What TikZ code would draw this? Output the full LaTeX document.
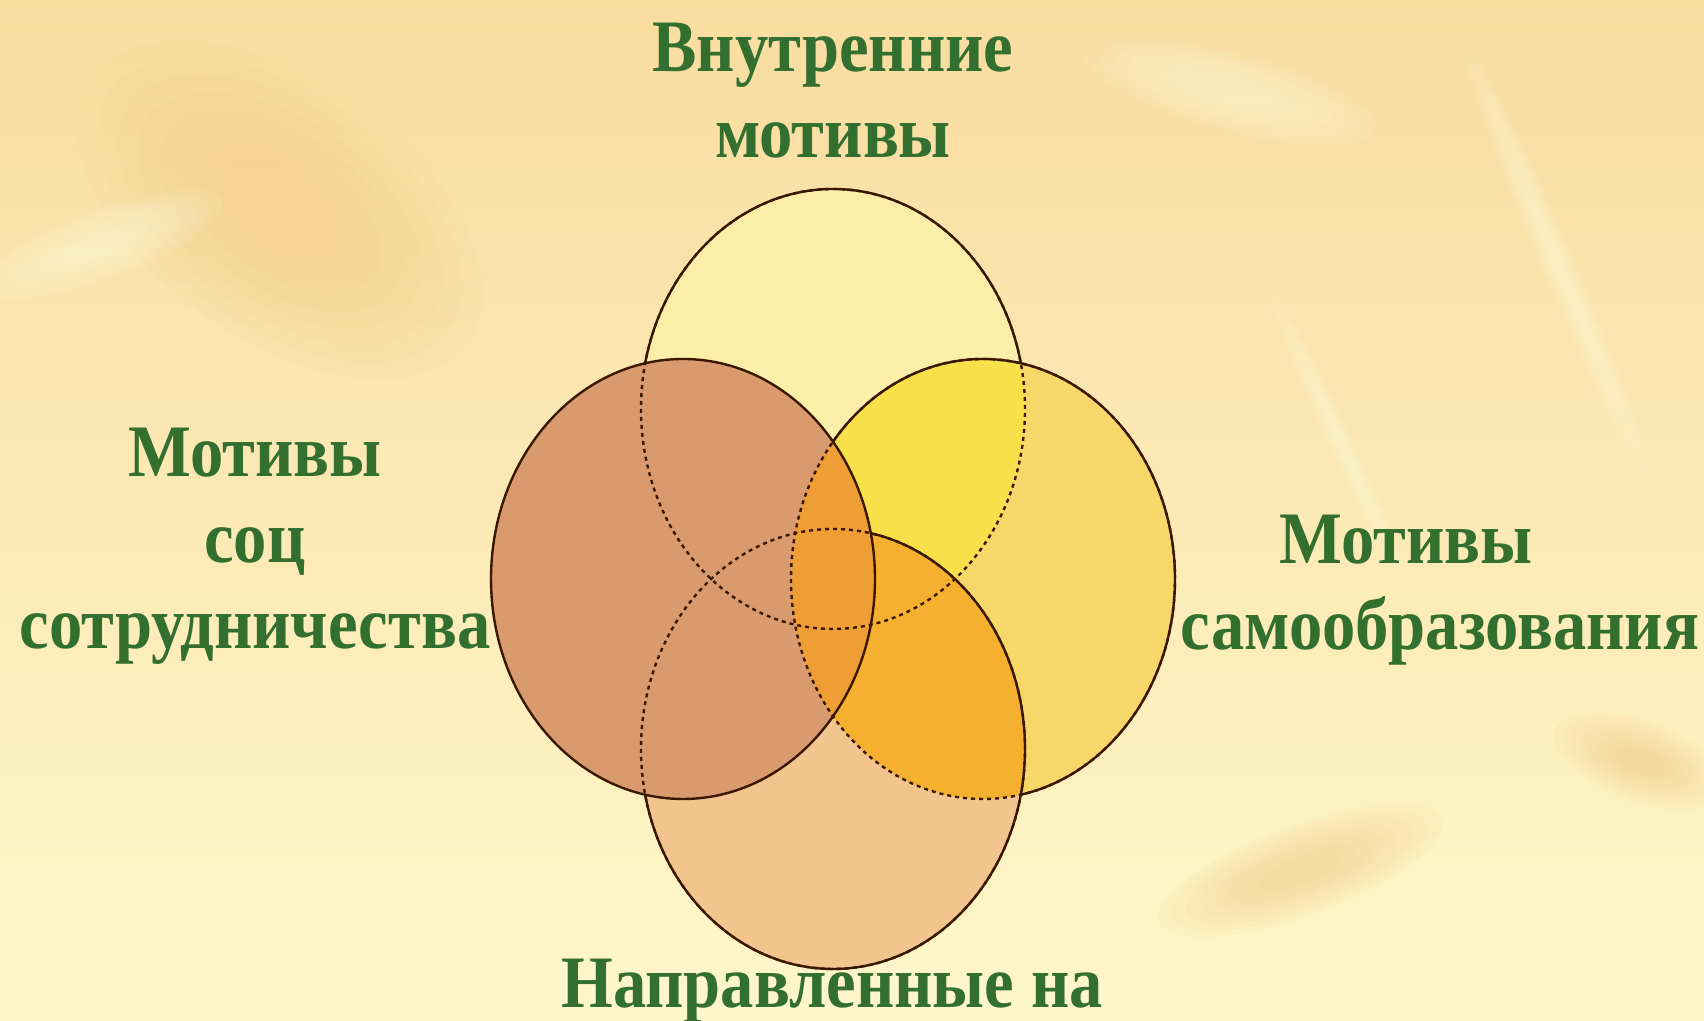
\documentclass[tikz,border=0pt]{standalone}
\usepackage{fontspec}
\newfontfamily\motivefont[FakeStretch=0.9]{Liberation Serif}
\definecolor{bgtop}{HTML}{F9DCA0}
\definecolor{bgbottom}{HTML}{FEF7CA}
\definecolor{leafpeach}{HTML}{F5CC88}
\definecolor{leaflight}{HTML}{FFFCD8}
\definecolor{rimbrown}{HTML}{3A1800}
\definecolor{motivegreen}{HTML}{336F2E}
\definecolor{topfill}{HTML}{FBEEA8}
\definecolor{rightfill}{HTML}{F7D66A}
\definecolor{toprightfill}{HTML}{F8E04A}
\definecolor{bottomfill}{HTML}{F2C48E}
\definecolor{rightbottomfill}{HTML}{F6B030}
\definecolor{leftfill}{HTML}{D99A6E}
\definecolor{leftrightfill}{HTML}{EE9E34}
\newcommand\ringrx{192}   % horizontal radius
\newcommand\ringry{220}   % vertical radius
\begin{document}
\begin{tikzpicture}[
        x=0.5pt, y=0.5pt,
        line join=round,
        % contours
        rim/.style={draw=rimbrown, line width=1.2pt},
        hidden/.style={draw=rimbrown, line width=1.2pt, dash pattern=on 2pt off 2pt},
        % labels
        motive/.style={font=\motivefont\bfseries\fontsize{37}{43}\selectfont,
            text=motivegreen, align=center, inner sep=0pt},
    ]

    % background with soft leaves
    \useasboundingbox (0,0) rectangle (1704,1021);
    \shade[top color=bgtop, bottom color=bgbottom] (0,0) rectangle (1704,1021);
    \foreach \cx/\cy/\a/\b/\ang/\col in {
            280/811/230/130/-35/leafpeach,
            100/776/130/35/20/leaflight,
            1560/752/250/16/-67/leaflight,
            1340/580/160/12/-65/leaflight,
            1230/930/150/40/-15/leaflight,
            1300/150/150/45/20/leafpeach,
            1640/260/90/40/-20/leafpeach}{
        \foreach \s in {1,0.9,0.8,0.7,0.6,0.5,0.4,0.3}
            \fill[\col, opacity=0.09, rotate around={\ang:(\cx,\cy)}]
                (\cx,\cy) ellipse ({\a*\s} and {\b*\s});
    }

    % centres of the four circles
    \coordinate (T) at (833,612);
    \coordinate (R) at (983,442);
    \coordinate (B) at (833,272);
    \coordinate (L) at (683,442);

    % fills, from the lowest to the highest
    \fill[topfill] (T) ellipse ({\ringrx} and {\ringry});
    \fill[rightfill] (R) ellipse ({\ringrx} and {\ringry});
    \begin{scope}
        \clip (T) ellipse ({\ringrx} and {\ringry});
        \fill[toprightfill] (R) ellipse ({\ringrx} and {\ringry});
    \end{scope}
    \fill[bottomfill] (B) ellipse ({\ringrx} and {\ringry});
    \begin{scope}
        \clip (R) ellipse ({\ringrx} and {\ringry});
        \fill[rightbottomfill] (B) ellipse ({\ringrx} and {\ringry});
    \end{scope}
    \fill[leftfill] (L) ellipse ({\ringrx} and {\ringry});
    \begin{scope}
        \clip (R) ellipse ({\ringrx} and {\ringry});
        \fill[leftrightfill] (L) ellipse ({\ringrx} and {\ringry});
    \end{scope}

    % hidden parts of the contours
    \draw[hidden] (T) ellipse ({\ringrx} and {\ringry});
    \draw[hidden] (R) ellipse ({\ringrx} and {\ringry});
    \draw[hidden] (B) ellipse ({\ringrx} and {\ringry});

    % visible parts of the contours
    \begin{scope}[even odd rule]
        \clip (0,0) rectangle (1704,1021) (L) ellipse ({\ringrx} and {\ringry});
        \draw[rim] (B) ellipse ({\ringrx} and {\ringry});
        \begin{scope}[even odd rule]
            \clip (0,0) rectangle (1704,1021) (B) ellipse ({\ringrx} and {\ringry});
            \draw[rim] (R) ellipse ({\ringrx} and {\ringry});
            \begin{scope}[even odd rule]
                \clip (0,0) rectangle (1704,1021) (R) ellipse ({\ringrx} and {\ringry});
                \draw[rim] (T) ellipse ({\ringrx} and {\ringry});
            \end{scope}
        \end{scope}
    \end{scope}
    \draw[rim] (L) ellipse ({\ringrx} and {\ringry});

    % labels (anchored at the baseline of their last line)
    \node[motive, anchor=base] (inner) at (833,863) {Внутренние\\мотивы};
    \node[motive, anchor=base] (social) at (255,372) {Мотивы\\соц\\сотрудничества};
    \node[motive, anchor=base] (selfedu) at (1440,371) {Мотивы\hspace*{34pt}\\самообразования};
    \node[motive, anchor=base] (directed) at (832,13) {Направленные на};
\end{tikzpicture}
\end{document}
